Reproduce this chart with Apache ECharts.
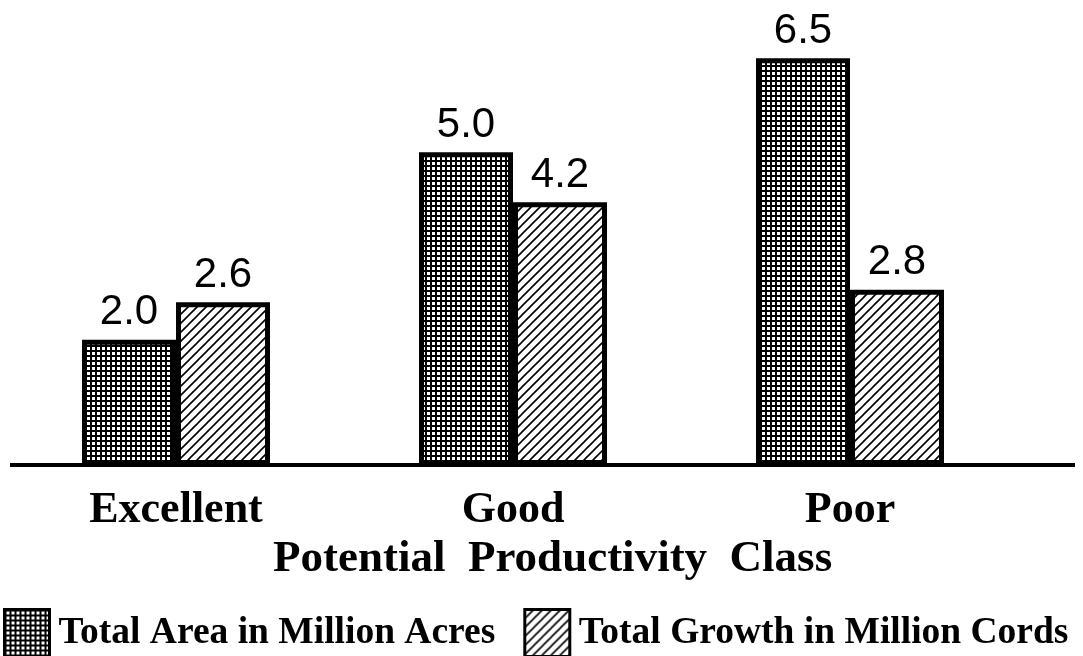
<!DOCTYPE html>
<html>

<head>
    <meta charset="utf-8">
    <title>Potential Productivity Class</title>
    <script src="https://cdn.jsdelivr.net/npm/echarts@6/dist/echarts.min.js"></script>
    <style>
        html, body { margin: 0; padding: 0; background: #fff; }
        #chart { width: 1083px; height: 656px; }
    </style>
</head>

<body>
    <div id="chart"></div>

    <script type="text/javascript">
        var categories = ['Excellent', 'Good', 'Poor'];
        var areaValues = [2.0, 5.0, 6.5];
        var growthValues = [2.6, 4.2, 2.8];
        var seriesNames = ['Total Area in Million Acres', 'Total Growth in Million Cords'];
        var axisTitle = 'Potential  Productivity  Class';

        // small grid mesh, like the old screen tone
        function MakeMesh() {
            var c = document.createElement('canvas');
            c.width = 5;
            c.height = 5;
            var ctx = c.getContext('2d');
            ctx.fillStyle = '#fff';
            ctx.fillRect(0, 0, 5, 5);
            ctx.fillStyle = '#000';
            ctx.fillRect(0, 0, 5, 2);
            ctx.fillRect(0, 0, 2, 5);
            return c;
        }

        // "/" hatch
        function MakeHatch() {
            var s = 9;
            var c = document.createElement('canvas');
            c.width = s;
            c.height = s;
            var ctx = c.getContext('2d');
            ctx.fillStyle = '#fff';
            ctx.fillRect(0, 0, s, s);
            ctx.strokeStyle = '#000';
            ctx.lineWidth = 1.6;
            ctx.beginPath();
            ctx.moveTo(-1, s + 1); ctx.lineTo(s + 1, -1);
            ctx.moveTo(-1, 1); ctx.lineTo(1, -1);
            ctx.moveTo(s - 1, s + 1); ctx.lineTo(s + 1, s - 1);
            ctx.stroke();
            return c;
        }

        var myChart = echarts.init(document.getElementById('chart'), null, { renderer: 'canvas' });

        var serif = "'Liberation Serif', 'Times New Roman', serif";
        var sans = "'Liberation Sans', Arial, Helvetica, sans-serif";

        var barLabel = {
            show: true,
            position: 'top',
            distance: 6,
            fontFamily: sans,
            fontSize: 42,
            color: '#000',
            formatter: function (p) { return p.value.toFixed(1); }
        };

        var option = {
            animation: false,
            title: {
                text: axisTitle,
                left: 268,
                top: 532,
                textStyle: { fontFamily: serif, fontWeight: 'bold', fontSize: 45, color: '#000' }
            },
            legend: {
                left: -2,
                top: 603,
                width: 1200,
                itemWidth: 45,
                itemHeight: 47,
                itemGap: 28,
                icon: 'rect',
                itemStyle: { borderColor: '#000', borderWidth: 3 },
                textStyle: { fontFamily: serif, fontWeight: 'bold', fontSize: 37.5, color: '#000', padding: [0, 0, 0, 4] },
                data: seriesNames
            },
            grid: { left: 7.5, width: 1011, top: 27, bottom: 191 },
            xAxis: {
                type: 'category',
                data: categories,
                axisLine: { show: false },
                axisTick: { show: false },
                axisLabel: { fontFamily: serif, fontWeight: 'bold', fontSize: 44, color: '#000', margin: 24 }
            },
            yAxis: {
                type: 'value',
                min: 0,
                max: 7,
                show: false
            },
            graphic: [{
                type: 'line',
                shape: { x1: 10, y1: 465, x2: 1075, y2: 465 },
                style: { stroke: '#000', lineWidth: 4 },
                z: 10
            }],
            series: [{
                name: seriesNames[0],
                type: 'bar',
                data: areaValues,
                barWidth: 94,
                barGap: '0%',
                itemStyle: { color: { image: MakeMesh(), repeat: 'repeat' }, borderColor: '#000', borderWidth: 5 },
                label: barLabel
            }, {
                name: seriesNames[1],
                type: 'bar',
                data: growthValues,
                barWidth: 94,
                barGap: '0%',
                itemStyle: { color: { image: MakeHatch(), repeat: 'repeat' }, borderColor: '#000', borderWidth: 5 },
                label: barLabel
            }]
        };

        myChart.setOption(option);
    </script>
</body>

</html>
